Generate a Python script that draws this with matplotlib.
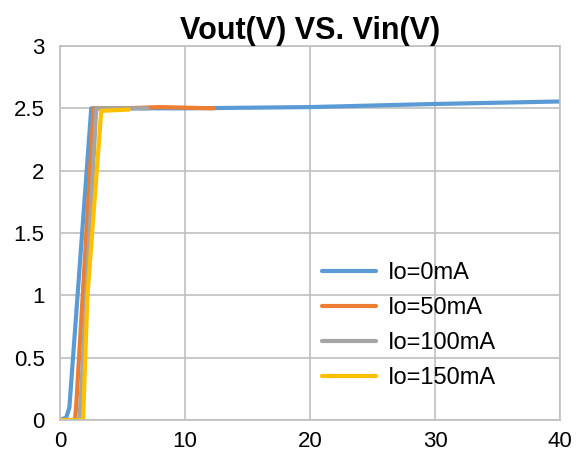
import matplotlib.pyplot as plt

plt.rcParams['font.family'] = ['Liberation Sans', 'DejaVu Sans']

# data
vin_0 = [0, 0.5, 0.75, 2.5, 5, 10, 20, 30, 40]
vout_0 = [0, 0.02, 0.1, 2.5, 2.5, 2.5, 2.51, 2.535, 2.555]

vin_50 = [0, 1.2, 1.3, 2.7, 5, 8, 12.3]
vout_50 = [0, 0, 0.12, 2.5, 2.5, 2.51, 2.5]

vin_100 = [0, 1.55, 1.65, 2.9, 5, 7]
vout_100 = [0, 0, 0.15, 2.5, 2.5, 2.5]

vin_150 = [0, 1.85, 1.95, 2.2, 3.3, 5.5]
vout_150 = [0, 0, 0.3, 1.0, 2.48, 2.49]

series = [
    (vin_0, vout_0, "Io=0mA", "#5B9BD5"),
    (vin_50, vout_50, "Io=50mA", "#ED7D31"),
    (vin_100, vout_100, "Io=100mA", "#A5A5A5"),
    (vin_150, vout_150, "Io=150mA", "#FFC000"),
]

fig = plt.figure(figsize=(5.77, 4.67), dpi=100)
ax = fig.add_axes([60/577, 47/467, 500/577, 374/467])

for x, y, lab, col in series:
    ax.plot(x, y, color=col, lw=3, label=lab, solid_capstyle='round')

ax.set_xlim(0, 40)
ax.set_ylim(0, 3)
ax.set_xticks([0, 10, 20, 30, 40])
ax.set_yticks([0, 0.5, 1, 1.5, 2, 2.5, 3])
ax.set_yticklabels(["0", "0.5", "1", "1.5", "2", "2.5", "3"])
ax.grid(True, color="#BFBFBF", lw=1.2)
ax.set_axisbelow(True)
for s in ax.spines.values():
    s.set_color("#BFBFBF")
    s.set_linewidth(1.2)
ax.tick_params(length=0, labelsize=16)
ax.tick_params(axis='y', pad=11)
ax.tick_params(axis='x', pad=8)

ax.set_title("Vout(V) VS. Vin(V)", fontsize=22, fontweight="bold", pad=2)

ax.legend(loc="lower right", bbox_to_anchor=(0.915, 0.025), frameon=False,
          fontsize=17, handlelength=2.3, labelspacing=0.55, handletextpad=0.5)

fig.savefig("out.png", dpi=100, facecolor="white")
